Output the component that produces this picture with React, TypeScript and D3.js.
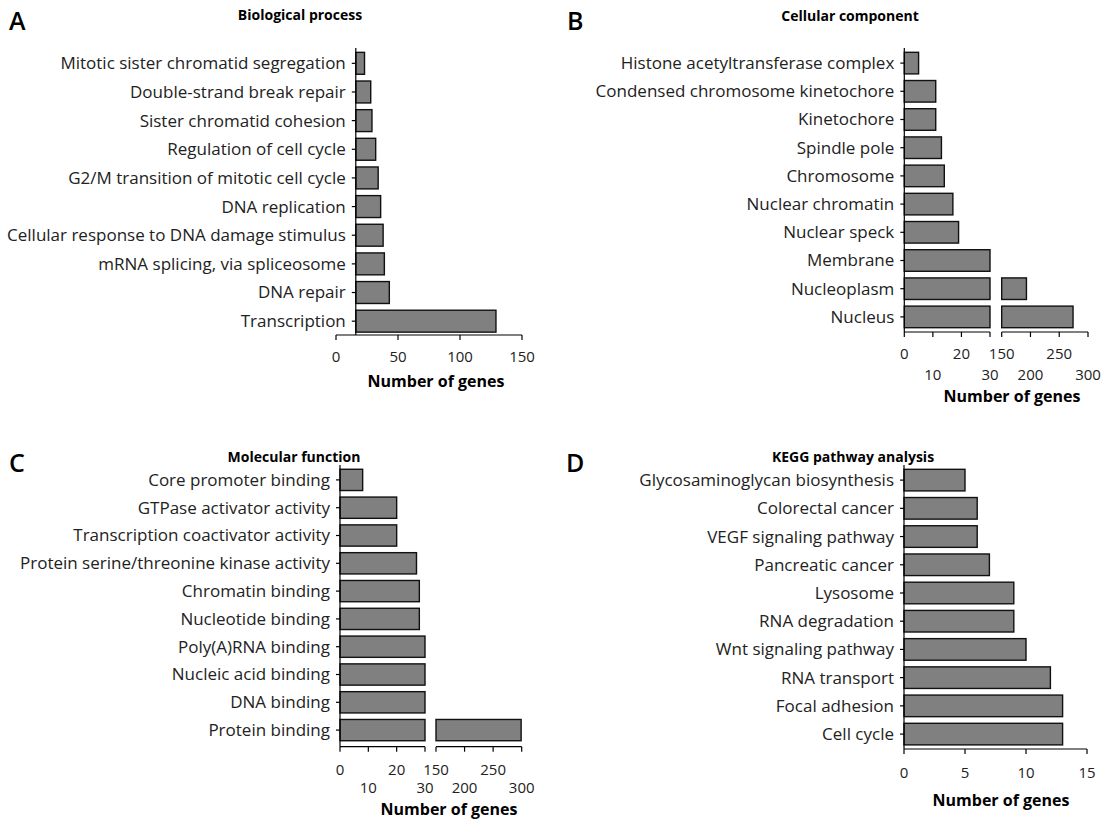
import React from 'react';
import * as d3 from 'd3';

// A - Biological process
const bpLabels = [
  'Mitotic sister chromatid segregation',
  'Double-strand break repair',
  'Sister chromatid cohesion',
  'Regulation of cell cycle',
  'G2/M transition of mitotic cell cycle',
  'DNA replication',
  'Cellular response to DNA damage stimulus',
  'mRNA splicing, via spliceosome',
  'DNA repair',
  'Transcription',
];
const bpValues = [23, 28, 29, 32, 34, 36, 38, 39, 43, 129];

// B - Cellular component
const ccLabels = [
  'Histone acetyltransferase complex',
  'Condensed chromosome kinetochore',
  'Kinetochore',
  'Spindle pole',
  'Chromosome',
  'Nuclear chromatin',
  'Nuclear speck',
  'Membrane',
  'Nucleoplasm',
  'Nucleus',
];
const ccValues = [5, 11, 11, 13, 14, 17, 19, 30, 193, 274];

// C - Molecular function
const mfLabels = [
  'Core promoter binding',
  'GTPase activator activity',
  'Transcription coactivator activity',
  'Protein serine/threonine kinase activity',
  'Chromatin binding',
  'Nucleotide binding',
  'Poly(A)RNA binding',
  'Nucleic acid binding',
  'DNA binding',
  'Protein binding',
];
const mfValues = [8, 20, 20, 27, 28, 28, 30, 30, 30, 299];

// D - KEGG
const keggLabels = [
  'Glycosaminoglycan biosynthesis',
  'Colorectal cancer',
  'VEGF signaling pathway',
  'Pancreatic cancer',
  'Lysosome',
  'RNA degradation',
  'Wnt signaling pathway',
  'RNA transport',
  'Focal adhesion',
  'Cell cycle',
];
const keggValues = [5, 6, 6, 7, 9, 9, 10, 12, 13, 13];

const bpTicks = [0, 50, 100, 150];
const brokenLow = [0, 10, 20, 30];
const brokenHigh = [150, 200, 250, 300];
const keggTicks = [0, 5, 10, 15];

const FONT = '"Open Sans", Lato, sans-serif';

type Seg = { domain: [number, number]; range: [number, number]; ticks: number[] };

function Panel(props: {
  letter: string; letterX: number; letterY: number;
  title: string; titleX: number; titleY: number;
  labels: string[]; values: number[];
  axisX: number; yTop: number; yBottom: number; axisY: number;
  segs: Seg[]; base: number;
  labelRows: number[]; tickRow: (v: number) => number;
  axisTitleX: number; axisTitleY: number;
}) {
  const y = d3.scaleBand()
    .domain(props.labels)
    .range([props.yTop, props.yBottom])
    .paddingInner(0.235)
    .paddingOuter(0.1175);
  const scales = props.segs.map(s => d3.scaleLinear().domain(s.domain).range(s.range));

  return (
    <g fontFamily={FONT}>
      <text x={props.letterX} y={props.letterY} fontSize={25} fontWeight={600}>{props.letter}</text>
      <text x={props.titleX} y={props.titleY} fontSize={14} fontWeight={700} textAnchor="middle">{props.title}</text>

      {props.values.map((v, i) =>
        props.segs.map((s, j) => {
          // broken axis: the first piece starts at the base, later pieces at their own start
          const lo = j === 0 ? props.base : s.domain[0];
          if (v <= s.domain[0] && j > 0) return null;
          const hi = Math.min(v, s.domain[1]);
          const x0 = scales[j](lo);
          const x1 = scales[j](hi);
          return (
            <rect key={i + '-' + j}
              x={x0} y={y(props.labels[i])!}
              width={x1 - x0} height={y.bandwidth()}
              fill="#808080" stroke="#111" strokeWidth={1.4} />
          );
        })
      )}

      <line x1={props.axisX} x2={props.axisX} y1={props.yTop - 1} y2={props.axisY} stroke="#000" strokeWidth={1.2} />
      {props.labels.map(l => {
        const cy = y(l)! + y.bandwidth() / 2;
        return (
          <g key={l}>
            <line x1={props.axisX - 4} x2={props.axisX} y1={cy} y2={cy} stroke="#000" strokeWidth={1.2} />
            <text x={props.axisX - 10} y={cy} dy="0.35em" fontSize={17} textAnchor="end" fill="#222">{l}</text>
          </g>
        );
      })}

      {props.segs.map((s, j) => (
        <g key={'ax' + j}>
          <line x1={s.range[0]} x2={s.range[1]} y1={props.axisY} y2={props.axisY} stroke="#000" strokeWidth={1.2} />
          {s.ticks.map(t => (
            <g key={t}>
              <line x1={scales[j](t)} x2={scales[j](t)} y1={props.axisY} y2={props.axisY + 5} stroke="#000" strokeWidth={1.2} />
              <text x={scales[j](t)} y={props.labelRows[props.tickRow(t)]} dy="0.35em" fontSize={15} textAnchor="middle" fill="#222">{t}</text>
            </g>
          ))}
        </g>
      ))}
      <text x={props.axisTitleX} y={props.axisTitleY} dy="0.35em" fontSize={16} fontWeight={700} textAnchor="middle">Number of genes</text>
    </g>
  );
}

const stagger = (v: number) => ([10, 30, 200, 300].includes(v) ? 1 : 0);

export default function App() {
  return (
    <svg width={1105} height={820} style={{ position: 'absolute', left: 0, top: 0 }}>
      <rect width={1105} height={820} fill="#fff" />
      <Panel
        letter="A" letterX={9} letterY={30}
        title="Biological process" titleX={300} titleY={20}
        labels={bpLabels} values={bpValues}
        axisX={355.8} yTop={49} yBottom={335.5} axisY={335}
        segs={[{ domain: [0, 150], range: [336, 522], ticks: bpTicks }]} base={16}
        labelRows={[357]} tickRow={() => 0}
        axisTitleX={436} axisTitleY={381}
      />
      <Panel
        letter="B" letterX={567} letterY={30}
        title="Cellular component" titleX={850} titleY={21}
        labels={ccLabels} values={ccValues}
        axisX={904.3} yTop={49} yBottom={331} axisY={332}
        segs={[
          { domain: [0, 30], range: [904.3, 990], ticks: brokenLow },
          { domain: [150, 300], range: [1001.7, 1088], ticks: brokenHigh },
        ]} base={0}
        labelRows={[354, 375]} tickRow={stagger}
        axisTitleX={1012} axisTitleY={396}
      />
      <Panel
        letter="C" letterX={9} letterY={472}
        title="Molecular function" titleX={294} titleY={462}
        labels={mfLabels} values={mfValues}
        axisX={340} yTop={466} yBottom={744} axisY={746.7}
        segs={[
          { domain: [0, 30], range: [340, 425], ticks: brokenLow },
          { domain: [150, 300], range: [436, 521.7], ticks: brokenHigh },
        ]} base={0}
        labelRows={[770, 788]} tickRow={stagger}
        axisTitleX={449} axisTitleY={809}
      />
      <Panel
        letter="D" letterX={566} letterY={472}
        title="KEGG pathway analysis" titleX={853} titleY={462}
        labels={keggLabels} values={keggValues}
        axisX={904} yTop={466} yBottom={748.2} axisY={749}
        segs={[{ domain: [0, 15], range: [904, 1087], ticks: keggTicks }]} base={0}
        labelRows={[773]} tickRow={() => 0}
        axisTitleX={1001} axisTitleY={800}
      />
    </svg>
  );
}
